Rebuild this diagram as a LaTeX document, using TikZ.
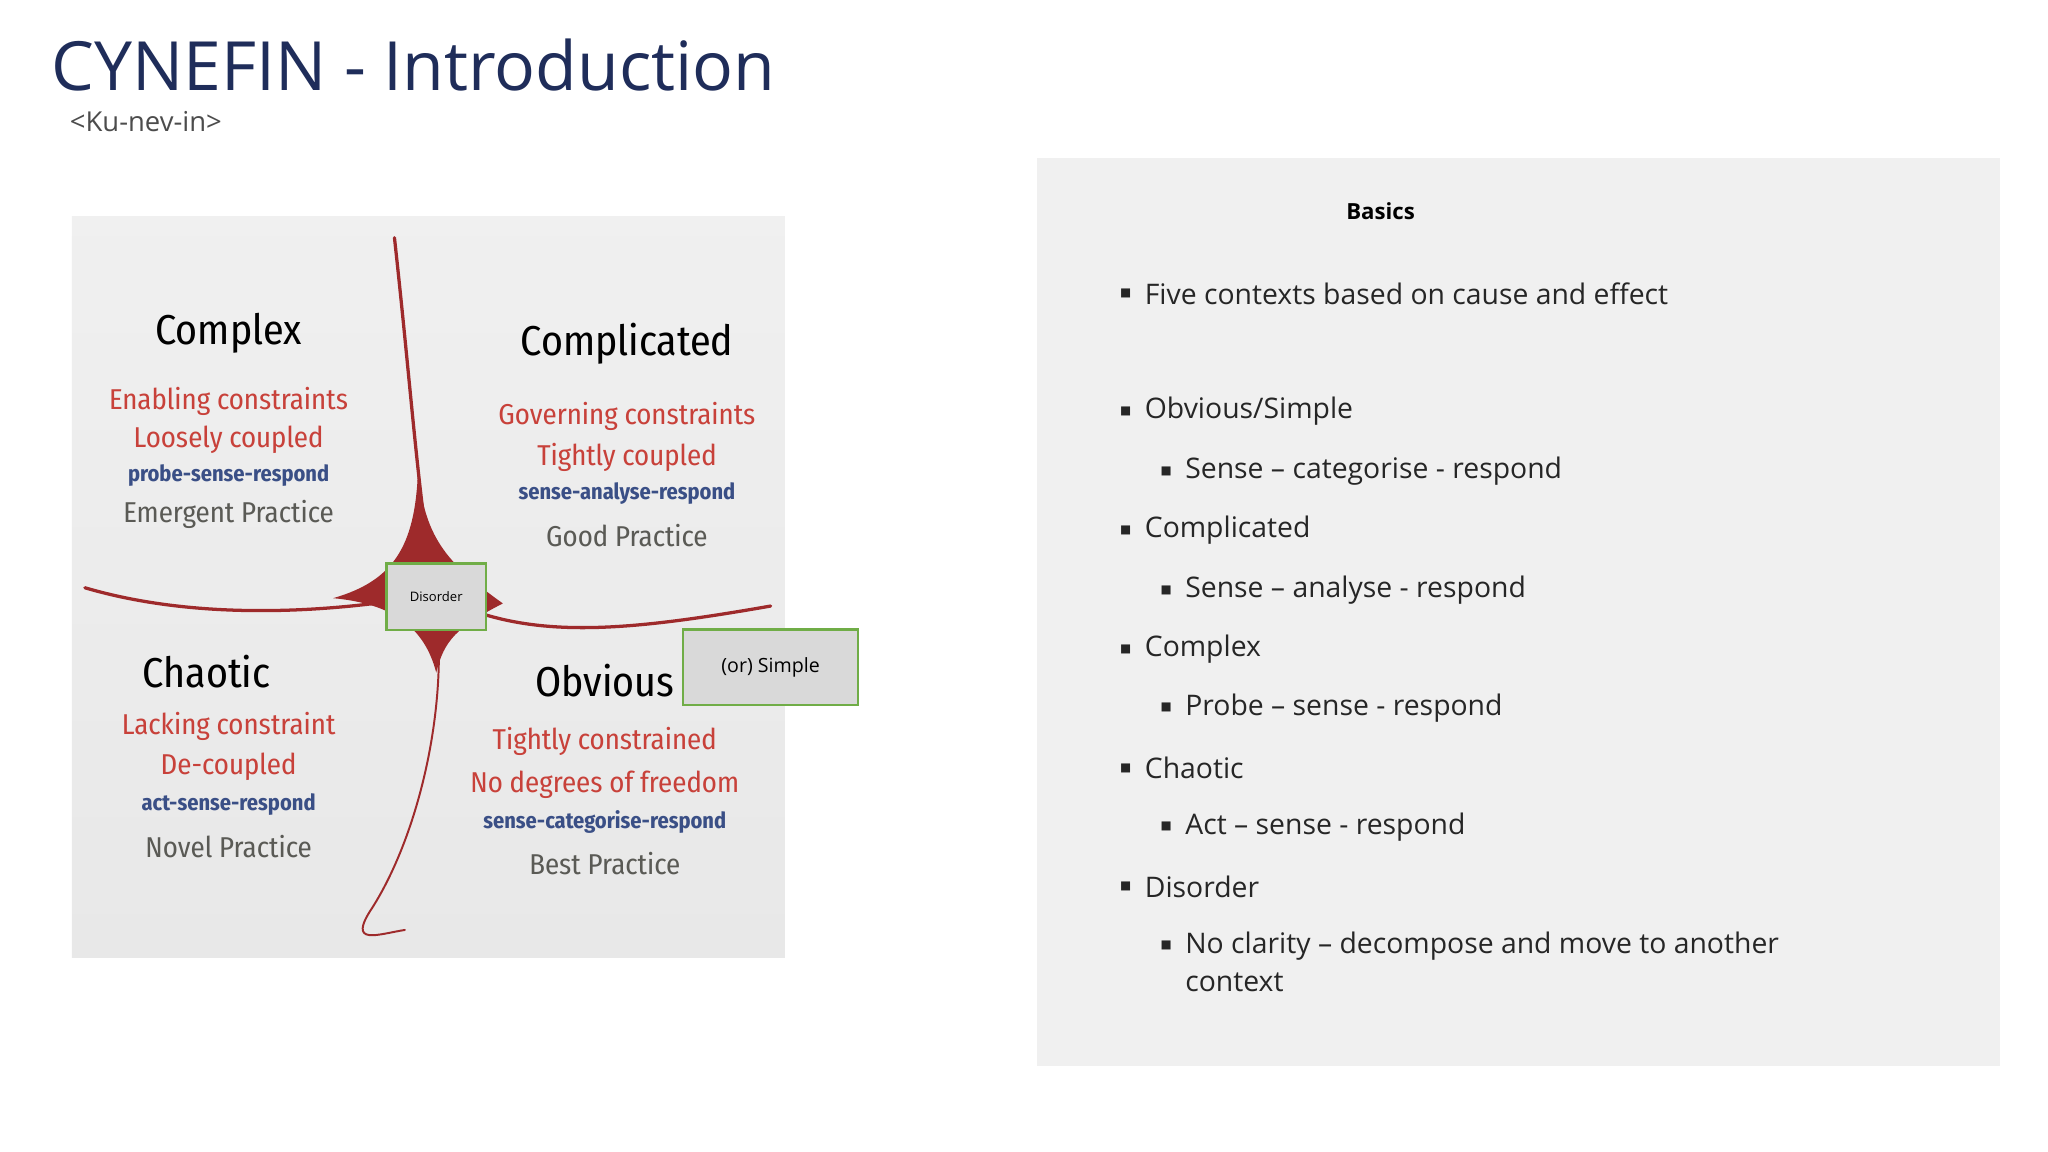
\documentclass[tikz,border=0pt]{standalone}
\usepackage{fontspec}
\setmainfont{Open Sans}
\newfontfamily\hand{Fira Sans Condensed}
\newfontfamily\dejav{DejaVu Sans}
\definecolor{navy}{HTML}{1F2D5A}
\definecolor{cred}{HTML}{9E2A2B}
\definecolor{tred}{HTML}{C8413A}
\definecolor{tblue}{HTML}{3A4F86}
\definecolor{tgrey}{HTML}{5A5A55}
\definecolor{gbox}{HTML}{70AD47}
\begin{document}
\begin{tikzpicture}[x=1pt,y=-1pt,
  head/.style={font=\hand\fontsize{32}{36}\selectfont, text=black},
  rl/.style={font=\hand\fontsize{22}{25}\selectfont, text=tred},
  bl/.style={font=\hand\bfseries\fontsize{17}{20}\selectfont, text=tblue},
  gl/.style={font=\hand\fontsize{22}{25}\selectfont, text=tgrey},
  qbox/.style={draw=gbox, line width=1.8pt, fill=black!15, inner sep=0pt},
  bul/.style={anchor=west, font=\fontsize{21.7}{25}\selectfont, text=black!85},
  sq/.style={anchor=west, font=\dejav\fontsize{9}{9}\selectfont, text=black!85},
  curve/.style={draw=cred, line width=2.5pt, line cap=round}]
\useasboundingbox (0,0) rectangle (1568,882);
\fill[white] (0,0) rectangle (1568,882);
\node[anchor=west, text=navy, font=\fontsize{52}{56}\selectfont] (title) at (36,50) {CYNEFIN - Introduction};
\node[anchor=west, text=black!70, font=\fontsize{21}{24}\selectfont] (sub) at (50,93) {<Ku-nev-in>};
% right panel
\fill[black!6] (794,121) rectangle (1531,816);
\node[font=\bfseries\fontsize{17}{20}\selectfont] (basics) at (1057,162) {Basics};
\foreach \y/\t in {225/{Five contexts based on cause and effect},315/{Obvious/Simple},406/{Complicated},497/{Complex},588/{Chaotic},679/{Disorder}}{
  \node[sq] at (854,\y) {■};
  \node[bul] at (873,\y) {\t};}
\foreach \y/\t in {361/{Sense – categorise - respond},452/{Sense – analyse - respond},542/{Probe – sense - respond},633/{Act – sense - respond},724/{No clarity – decompose and move to another}}{
  \node[sq] at (885,\y) {■};
  \node[bul] at (904,\y) {\t};}
\node[bul] at (904,752) {context};
% diagram panel
\shade[top color=black!6, bottom color=black!9] (55,166) rectangle (601,733);
\coordinate (c) at (333,455);
\draw[curve] (302,182) .. controls (315,300) and (320,380) .. (c);
\draw[curve] (65,450) .. controls (150,475) and (250,470) .. (c);
\draw[curve] (c) .. controls (400,490) and (470,485) .. (590,464);
\draw[curve, line width=1.5pt] (c) .. controls (345,540) and (320,640) .. (285,695)
   .. controls (265,725) and (290,715) .. (310,712);
\fill[cred] (320,360) .. controls (325,410) and (340,430) .. (385,462)
  .. controls (350,480) and (340,490) .. (334,515)
  .. controls (325,480) and (300,462) .. (255,458)
  .. controls (300,445) and (318,420) .. (320,360) -- cycle;
\node[qbox, minimum width=76pt, minimum height=51pt, font=\fontsize{10}{12}\selectfont] (dis) at (334,457) {Disorder};
\node[qbox, minimum width=134pt, minimum height=58pt, font=\fontsize{15}{18}\selectfont] (simple) at (590,511) {(or) Simple};
\node[head] (cx) at (175,255) {Complex};
\node[rl] at (175,307) {Enabling constraints};
\node[rl] at (175,337) {Loosely coupled};
\node[bl] at (175,364) {probe-sense-respond};
\node[gl] at (175,394) {Emergent Practice};
\node[head] (cd) at (480,263) {Complicated};
\node[rl] at (480,319) {Governing constraints};
\node[rl] at (480,350) {Tightly coupled};
\node[bl] at (480,378) {sense-analyse-respond};
\node[gl] at (480,410) {Good Practice};
\node[head] (ch) at (158,514) {Chaotic};
\node[rl] at (175,556) {Lacking constraint};
\node[rl] at (175,587) {De-coupled};
\node[bl] at (175,616) {act-sense-respond};
\node[gl] at (175,648) {Novel Practice};
\node[head] (ob) at (463,521) {Obvious};
\node[rl] at (463,568) {Tightly constrained};
\node[rl] at (463,601) {No degrees of freedom};
\node[bl] at (463,629) {sense-categorise-respond};
\node[gl] at (463,661) {Best Practice};
\end{tikzpicture}
\end{document}
